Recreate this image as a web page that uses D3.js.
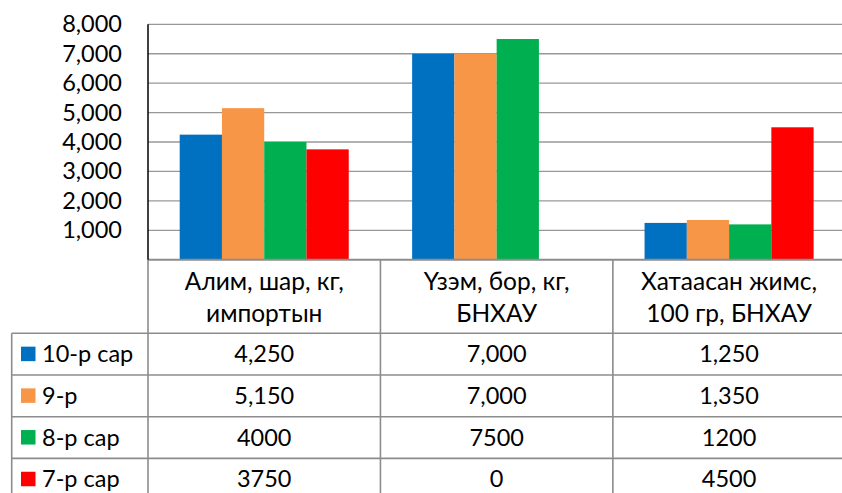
<!DOCTYPE html>
<html>
<head>
<meta charset="utf-8">
<script src="https://cdn.jsdelivr.net/npm/d3@7"></script>
<style>
  body { margin: 0; background: #fff; }
  svg { display: block; }
  text { font-family: "Lato", "Open Sans", sans-serif; fill: #000; }
</style>
</head>
<body>
<div id="chart"></div>
<script>
const categories = [
  ["Алим, шар, кг,", "импортын"],
  ["Үзэм, бор, кг,", "БНХАУ"],
  ["Хатаасан жимс,", "100 гр, БНХАУ"]
]
const seriesNames = ["10-р сар", "9-р", "8-р сар", "7-р сар"]
const seriesColors = ["#0070C0", "#F79646", "#00B050", "#FF0000"]
const oct = [4250, 7000, 1250]
const sep = [5150, 7000, 1350]
const aug = [4000, 7500, 1200]
const jul = [3750, 0, 4500]
// first two rows show thousands separators in the table, last two don't
const tableFormats = [",", ",", "d", "d"]
const yTicks = [1000, 2000, 3000, 4000, 5000, 6000, 7000, 8000]

const series = [oct, sep, aug, jul].map((vals, i) => ({
  name: seriesNames[i], color: seriesColors[i], fmt: d3.format(tableFormats[i]), vals
}))

const fullWidth = 842
const fullHeight = 493

const plot = { left: 148, right: 845.3, top: 24.3, bottom: 259.7 }
const table = { left: 11.7, headTop: 260, headBottom: 333.3, rowH: 41.7 }

const svg = d3.select("#chart")
              .append("svg")
              .attr("width", fullWidth)
              .attr("height", fullHeight)

const catIdx = categories.map((c, i) => i)

const xScale = d3.scaleBand()
                 .domain(catIdx)
                 .range([plot.left, plot.right])

// gap width 150% between groups
const barScale = d3.scaleBand()
                   .domain(d3.range(series.length))
                   .range([0, xScale.bandwidth()])
                   .paddingInner(0)
                   .paddingOuter(0.75)

const yScale = d3.scaleLinear()
                 .domain([0, 8000])
                 .range([plot.bottom, plot.top])

// gridlines
svg.append("g")
   .selectAll("line")
   .data(yTicks)
   .enter()
   .append("line")
   .attr("x1", plot.left)
   .attr("x2", plot.right)
   .attr("y1", d => yScale(d))
   .attr("y2", d => yScale(d))
   .attr("stroke", "#989898")
   .attr("stroke-width", 1.3)

// bars
const groups = svg.append("g")
   .selectAll("g")
   .data(series)
   .enter()
   .append("g")
   .attr("fill", d => d.color)

groups.selectAll("rect")
   .data((s, si) => s.vals.map((v, ci) => ({ v, ci, si })))
   .enter()
   .append("rect")
   .attr("x", d => xScale(d.ci) + barScale(d.si))
   .attr("width", barScale.bandwidth())
   .attr("y", d => yScale(d.v))
   .attr("height", d => yScale(0) - yScale(d.v))

// y axis labels
const yAxis = d3.axisLeft(yScale)
                .tickValues(yTicks)
                .tickFormat(d3.format(","))
                .tickSize(0)
                .tickPadding(0)

svg.append("g")
   .attr("transform", `translate(${plot.left - 26},0)`)
   .call(yAxis)
   .call(g => g.select(".domain").remove())
   .selectAll("text")
   .attr("font-size", 23.5)
   .attr("font-family", "Lato, 'Open Sans', sans-serif")
   .attr("fill", "#000")

// data table
const rowTop = i => table.headBottom + i * table.rowH
const tableGrid = svg.append("g")
                     .attr("stroke", "#8c8c8c")
                     .attr("stroke-width", 1.6)
                     .attr("fill", "none")

// horizontal lines of the table
tableGrid.append("line")
   .attr("x1", plot.left).attr("x2", plot.right)
   .attr("y1", plot.bottom).attr("y2", plot.bottom)
   .attr("stroke-width", 2)
tableGrid.selectAll("line.row")
   .data(d3.range(series.length + 1))
   .enter()
   .append("line")
   .classed("row", true)
   .attr("x1", table.left).attr("x2", plot.right)
   .attr("y1", d => rowTop(d)).attr("y2", d => rowTop(d))

// vertical lines
tableGrid.append("line")
   .attr("x1", table.left).attr("x2", table.left)
   .attr("y1", table.headBottom).attr("y2", rowTop(series.length))
tableGrid.selectAll("line.col")
   .data(catIdx.concat([catIdx.length]))
   .enter()
   .append("line")
   .classed("col", true)
   .attr("x1", d => d < catIdx.length ? xScale(d) : plot.right)
   .attr("x2", d => d < catIdx.length ? xScale(d) : plot.right)
   .attr("y1", plot.bottom)
   .attr("y2", rowTop(series.length))

// left axis line
svg.append("line")
   .attr("x1", plot.left).attr("x2", plot.left)
   .attr("y1", plot.top).attr("y2", plot.bottom)
   .attr("stroke", "#000")
   .attr("stroke-width", 1.5)

// category headers
const head = svg.append("g")
                .selectAll("text")
                .data(categories)
                .enter()
                .append("text")
                .attr("text-anchor", "middle")
                .attr("font-size", 24.5)
                .attr("x", (d, i) => xScale(i) + xScale.bandwidth() / 2)
                .attr("y", 281.7)

head.selectAll("tspan")
    .data(d => d)
    .enter()
    .append("tspan")
    .attr("x", function () { return d3.select(this.parentNode).attr("x") })
    .attr("dy", (d, i) => i === 0 ? "0.35em" : 31.6)
    .text(d => d)

// rows
const rows = svg.append("g")
                .selectAll("g")
                .data(series)
                .enter()
                .append("g")
                .attr("transform", (d, i) => `translate(0,${rowTop(i) + table.rowH / 2})`)

rows.append("rect")
    .attr("x", 21)
    .attr("y", -7.5)
    .attr("width", 14.5)
    .attr("height", 14.5)
    .attr("fill", d => d.color)

rows.append("text")
    .attr("x", 42)
    .attr("dy", "0.35em")
    .attr("font-size", 23.5)
    .text(d => d.name)

rows.selectAll("text.val")
    .data(s => s.vals.map(v => s.fmt(v)))
    .enter()
    .append("text")
    .classed("val", true)
    .attr("x", (d, i) => xScale(i) + xScale.bandwidth() / 2)
    .attr("dy", "0.35em")
    .attr("text-anchor", "middle")
    .attr("font-size", 23.5)
    .text(d => d)
</script>
</body>
</html>
